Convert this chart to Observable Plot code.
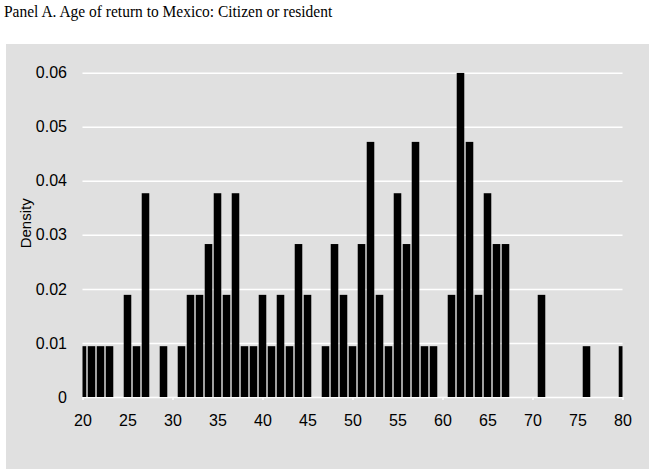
<!DOCTYPE html>
<html><head><meta charset="utf-8">
<script src="https://cdn.jsdelivr.net/npm/d3@7"></script>
<script src="https://cdn.jsdelivr.net/npm/@observablehq/plot@0.6"></script>
<style>
body{margin:0;background:#fff;}
#title{position:absolute;left:4px;top:3px;font-family:"Liberation Serif","Times New Roman",serif;font-size:17px;line-height:17px;transform:scaleX(0.91);transform-origin:left top;white-space:nowrap;color:#000}
#chart{position:absolute;left:6px;top:44px}
</style></head><body>
<div id="title">Panel A. Age of return to Mexico: Citizen or resident</div>
<div id="chart"></div>
<script>
const ages = [20,21,22,23,25,26,27,29,31,32,33,34,35,36,37,38,39,40,41,42,43,44,45,47,48,49,50,51,52,53,54,55,56,57,58,59,61,62,63,64,65,66,67,71,76,80];
const density = [0.0094,0.0094,0.0094,0.0094,0.0189,0.0094,0.0377,0.0094,0.0094,0.0189,0.0189,0.0283,0.0377,0.0189,0.0377,0.0094,0.0094,0.0189,0.0094,0.0189,0.0094,0.0283,0.0189,0.0094,0.0283,0.0189,0.0094,0.0283,0.0472,0.0189,0.0094,0.0377,0.0283,0.0472,0.0094,0.0094,0.0189,0.06,0.0472,0.0189,0.0377,0.0283,0.0283,0.0189,0.0094,0.0094];
const yTicks = [0,0.01,0.02,0.03,0.04,0.05,0.06];
const xLabelTicks = [20,25,30,35,40,45,50,55,60,65,70,75,80];
const xMarkTicks = [20,30,40,50,60,70,80];
const data = ages.map((a,i)=>({age:a, density:density[i]}));
const chart = Plot.plot({
  width: 643, height: 425,
  marginLeft: 76.5, marginRight: 26.5, marginTop: 28.7, marginBottom: 72,
  style: {background:"#e0e0e0", fontFamily:"'Liberation Sans', Arial, sans-serif", color:"#000"},
  x: {domain:[20,80]},
  y: {domain:[0,0.06]},
  marks: [
    Plot.gridY(yTicks, {stroke:"#fff", strokeOpacity:1, strokeWidth:1.5}),
    Plot.axisX(xMarkTicks, {tickSize:3, stroke:"#fff", strokeWidth:1.5, tickFormat:()=>"", label:null}),
    Plot.axisX(xLabelTicks, {tickSize:0, tickPadding:17, fontSize:16, fill:"#000", label:null}),
    Plot.axisY(yTicks, {tickSize:0, tickPadding:16, fontSize:16, fill:"#000", label:null, tickFormat: d => d===0 ? "0" : d3.format(".2f")(d)}),
    Plot.rectY(data, {x1: d=>d.age-0.42, x2: d=>d.age+0.42, y: "density", fill:"#000", clip:true}),
    Plot.text(["Density"], {frameAnchor:"left", textAnchor:"middle", dx:-56.5, dy:-12, rotate:-90, fontSize:15, fill:"#000"})
  ]
});
document.getElementById("chart").appendChild(chart);
</script>
</body></html>
